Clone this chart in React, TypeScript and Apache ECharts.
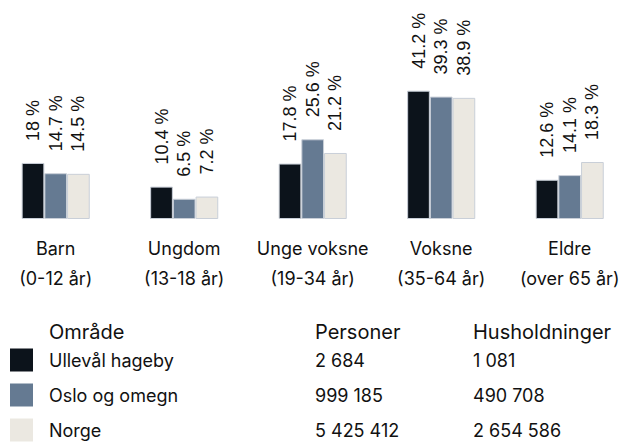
import React, { useEffect, useRef } from "react";
import * as echarts from "echarts";

const categories = [
  "Barn\n(0-12 år)",
  "Ungdom\n(13-18 år)",
  "Unge voksne\n(19-34 år)",
  "Voksne\n(35-64 år)",
  "Eldre\n(over 65 år)",
];
const seriesNames = ["Ullevål hageby", "Oslo og omegn", "Norge"];
const ullevaal = [18, 10.4, 17.8, 41.2, 12.6];
const oslo = [14.7, 6.5, 25.6, 39.3, 14.1];
const norge = [14.5, 7.2, 21.2, 38.9, 18.3];
const seriesColors = ["#0c131b", "#657a92", "#ebe8e1"];
const tableHeaders = ["Område", "Personer", "Husholdninger"];
const personer = ["2 684", "999 185", "5 425 412"];
const husholdninger = ["1 081", "490 708", "2 654 586"];

const FONT = "Inter, 'Noto Sans', sans-serif";
const SHIFT = 9;

export default function App() {
  const ref = useRef<HTMLDivElement>(null);
  useEffect(() => {
    if (!ref.current) return;
    const chart = echarts.init(ref.current, undefined, { renderer: "svg" });
    const values = [ullevaal, oslo, norge];
    const series = values.map((v, i) => ({
      type: "bar",
      name: seriesNames[i],
      data: v,
      barWidth: 22.7,
      barGap: "0%",
      itemStyle: { color: seriesColors[i], borderColor: "#c9cfd8", borderWidth: 1 },
      label: {
        show: true,
        position: "top",
        rotate: 90,
        align: "left",
        verticalAlign: "middle",
        distance: 22,
        formatter: (p: any) => `${p.value} %`,
        fontFamily: "'Liberation Sans', Arial, sans-serif",
        fontSize: 18,
        color: "#111111",
      },
    }));
    const rowY = [360, 395, 430];
    const graphics: any[] = [];
    const headX = [49, 315, 473];
    tableHeaders.forEach((t, i) =>
      graphics.push({
        type: "text",
        x: headX[i] + SHIFT,
        y: 332,
        style: { text: t, font: `20px ${FONT}`, fill: "#111111", verticalAlign: "middle" },
      })
    );
    seriesNames.forEach((n, i) => {
      graphics.push({
        type: "rect",
        shape: { x: 10 + SHIFT, y: rowY[i] - 11.5, width: 23, height: 23 },
        style: { fill: seriesColors[i] },
      });
      [n, personer[i], husholdninger[i]].forEach((t, j) =>
        graphics.push({
          type: "text",
          x: headX[j] + SHIFT,
          y: rowY[i],
          style: { text: t, font: `18px ${FONT}`, fill: "#111111", verticalAlign: "middle" },
        })
      );
    });
    chart.setOption({
      animation: false,
      grid: { left: 0.45, top: 1, width: 642.5, height: 218, containLabel: false },
      xAxis: {
        type: "category",
        data: categories,
        axisLine: { show: false },
        axisTick: { show: false },
        axisLabel: {
          interval: 0,
          margin: 14,
          lineHeight: 30,
          fontFamily: FONT,
          fontSize: 18,
          color: "#111111",
        },
      },
      yAxis: { type: "value", min: 0, max: 70, show: false, splitLine: { show: false } },
      series,
      graphic: graphics,
    });
    return () => chart.dispose();
  }, []);
  return (
    <div style={{ position: "absolute", left: 0, top: 0, width: 628, height: 442, overflow: "hidden" }}>
      <div ref={ref} style={{ position: "absolute", left: -SHIFT, top: 0, width: 643, height: 442 }} />
    </div>
  );
}
